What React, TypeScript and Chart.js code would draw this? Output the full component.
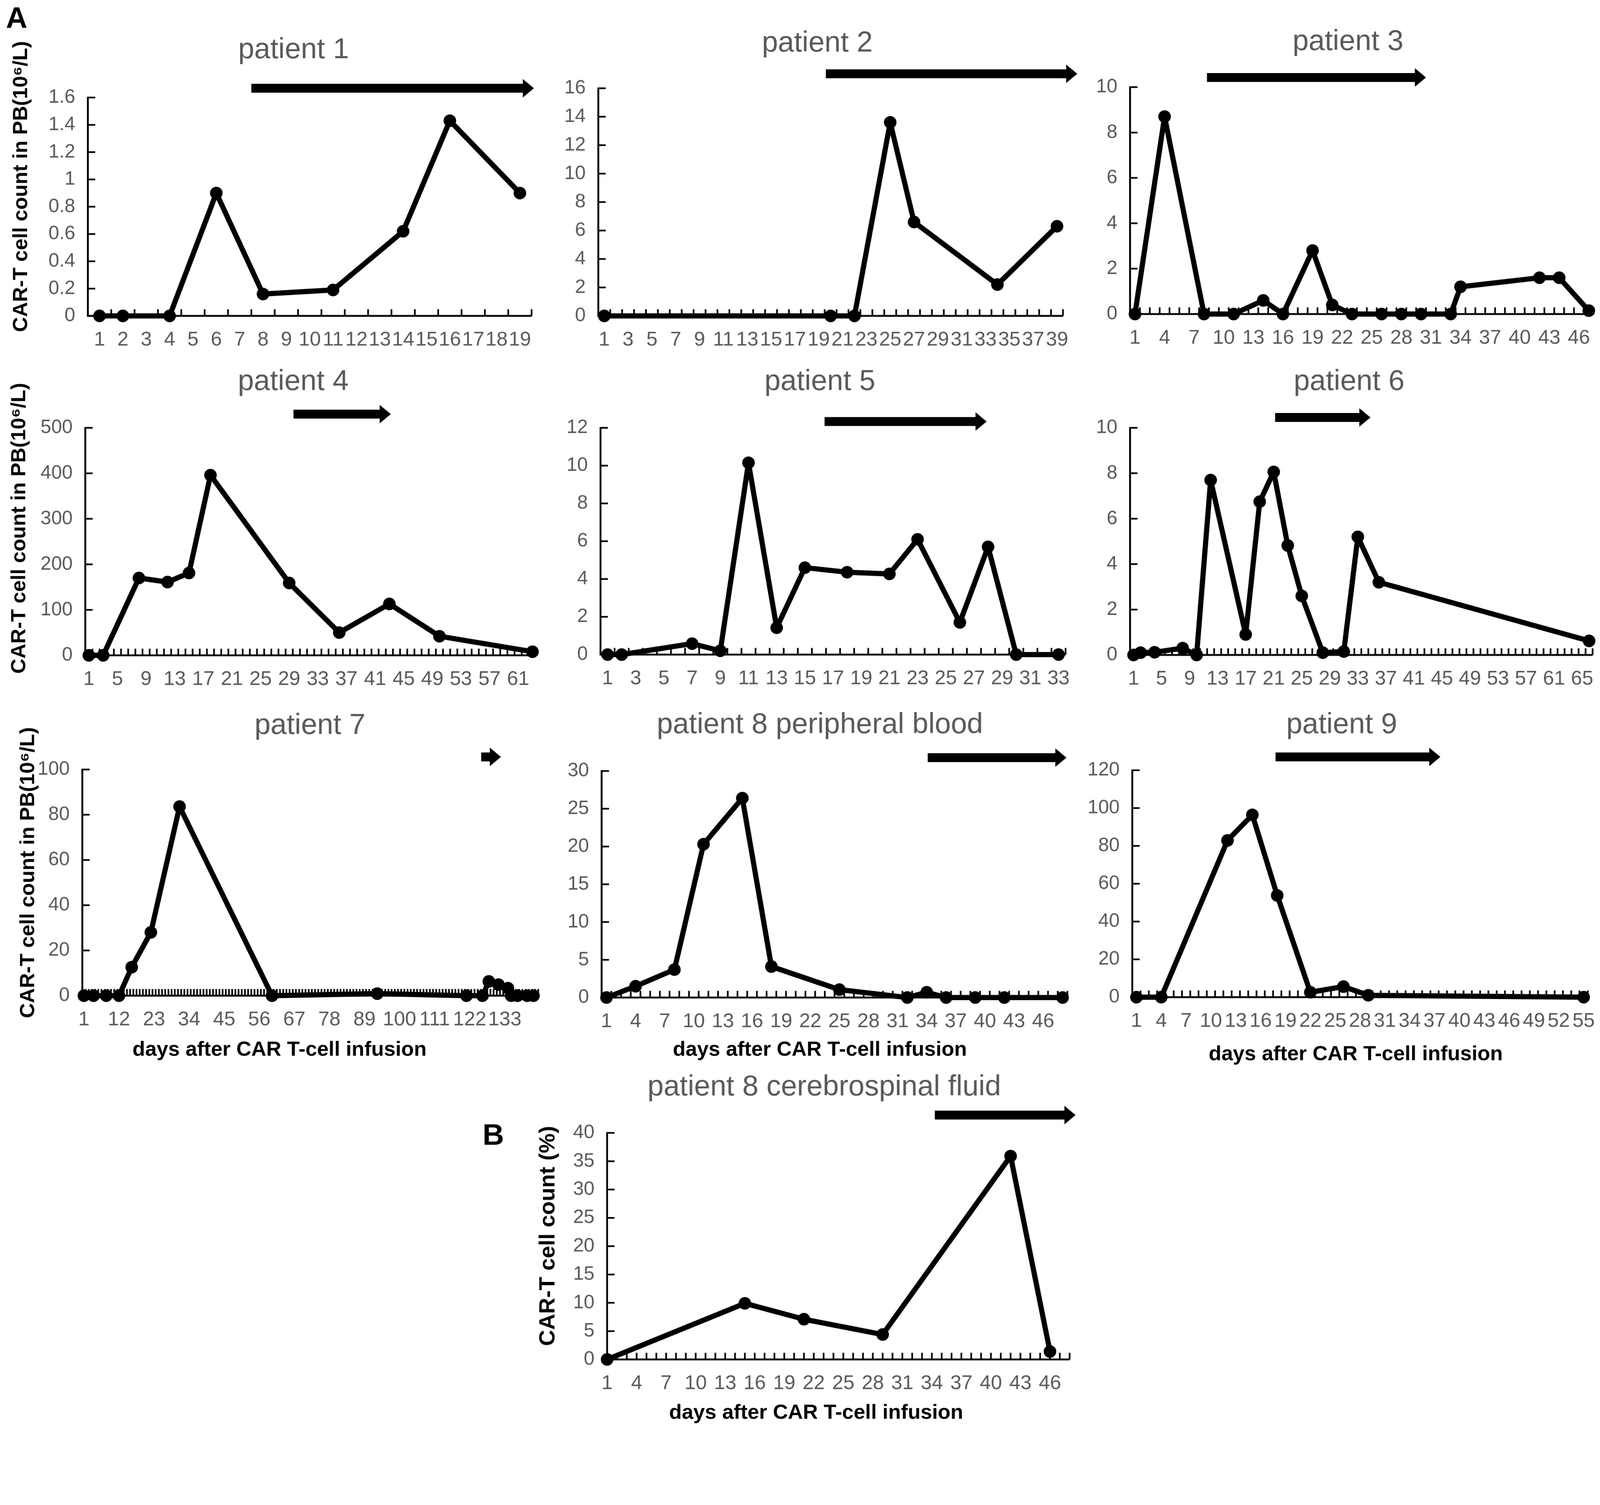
import { useEffect, useRef } from 'react';
import { Chart, registerables, type ChartConfiguration, type Plugin } from 'chart.js';

Chart.register(...registerables);

const FONT = '"Liberation Sans", Arial, Helvetica, sans-serif';
const GREY = '#595959';
const PAGE_W = 4317;
const PAGE_H = 3852;

// days after infusion and CAR-T counts
const p1Days = [1, 2, 4, 6, 8, 11, 14, 16, 19];
const p1Counts = [0, 0, 0, 0.9, 0.16, 0.19, 0.62, 1.43, 0.9];

const p2Days = [1, 20, 22, 25, 27, 34, 39];
const p2Counts = [0, 0, 0, 13.6, 6.6, 2.2, 6.3];

const p3Days = [1, 4, 8, 11, 14, 16, 19, 21, 23, 26, 28, 30, 33, 34, 42, 44, 47];
const p3Counts = [0, 8.7, 0, 0, 0.6, 0, 2.8, 0.4, 0, 0, 0, 0, 0, 1.2, 1.6, 1.6, 0.15];

const p4Days = [1, 3, 8, 12, 15, 18, 29, 36, 43, 50, 63];
const p4Counts = [0, 0, 170, 161, 181, 396, 159, 50, 113, 42, 8];

const p5Days = [1, 2, 7, 9, 11, 13, 15, 18, 21, 23, 26, 28, 30, 33];
const p5Counts = [0, 0, 0.58, 0.2, 10.15, 1.42, 4.6, 4.36, 4.27, 6.1, 1.7, 5.7, 0, 0];

const p6Days = [1, 2, 4, 8, 10, 12, 17, 19, 21, 23, 25, 28, 31, 33, 36, 66];
const p6Counts = [0, 0.1, 0.12, 0.3, 0, 7.7, 0.9, 6.75, 8.06, 4.82, 2.6, 0.1, 0.15, 5.2, 3.2, 0.62];

const p7Days = [1, 4, 8, 12, 16, 22, 31, 60, 93, 121, 126, 128, 131, 134, 135, 137, 140, 142];
const p7Counts = [0, 0, 0, 0, 12.6, 28, 83.6, 0, 0.9, 0, 0, 6.3, 4.9, 3.3, 0, 0, 0, 0];

const p8Days = [1, 4, 8, 11, 15, 18, 25, 32, 34, 36, 39, 42, 48];
const p8Counts = [0, 1.5, 3.7, 20.3, 26.4, 4.1, 1.05, 0, 0.7, 0, 0, 0, 0];

const p9Days = [1, 4, 12, 15, 18, 22, 26, 29, 55];
const p9Counts = [0, 0, 82.9, 96.4, 53.8, 2.6, 5.6, 1, 0];

const csfDays = [1, 15, 21, 29, 42, 46];
const csfPercent = [0, 9.9, 7.1, 4.4, 35.9, 1.4];

// treatment arrows, in days [start, tip]
const p1Arrow = [7.5, 19.6];
const p2Arrow = [19.6, 40.7];
const p3Arrow = [8.3, 30.5];
const p4Arrow = [29.6, 43.2];
const p5Arrow = [16.4, 27.9];
const p6Arrow = [21.2, 34.8];
const p7Arrow = [125.6, 131.8];
const p8Arrow = [34.1, 48.4];
const p9Arrow = [17.8, 37.7];
const csfArrow = [34.3, 48.6];

const yTitlePB = 'CAR-T cell count in PB(10⁶/L)';
const yTitleCSF = 'CAR-T cell count (%)';
const xTitle = 'days after CAR T-cell infusion';

interface Panel {
    title: string;
    days: number[];
    counts: number[];
    nDays: number;
    labelStep: number;
    onTicks?: boolean;
    yMax: number;
    yStep: number;
    arrow: number[];
    box: [number, number, number, number];
    area: [number, number, number, number];
    titleAt: [number, number];
    arrowY: number;
    yTitle?: { text: string; x: number; y: number; size: number };
    xTitleAt?: [number, number];
    letter?: { text: string; x: number; y: number; size: number };
}

const panels: Panel[] = [
    {
        title: 'patient 1', days: p1Days, counts: p1Counts, nDays: 19, labelStep: 1,
        yMax: 1.6, yStep: 0.2, arrow: p1Arrow,
        box: [0, 0, 1470, 960], area: [237, 263, 1434, 852],
        titleAt: [792, 157], arrowY: 238,
        yTitle: { text: yTitlePB, x: 58, y: 503, size: 56 },
        letter: { text: 'A', x: 16, y: 75, size: 80 },
    },
    {
        title: 'patient 2', days: p2Days, counts: p2Counts, nDays: 39, labelStep: 2,
        yMax: 16, yStep: 2, arrow: p2Arrow,
        box: [1470, 0, 1460, 960], area: [1614, 238, 2868, 852],
        titleAt: [2205, 139], arrowY: 199,
    },
    {
        title: 'patient 3', days: p3Days, counts: p3Counts, nDays: 47, labelStep: 3,
        yMax: 10, yStep: 2, arrow: p3Arrow,
        box: [2930, 0, 1387, 960], area: [3049, 235, 4300, 847],
        titleAt: [3637, 135], arrowY: 209,
    },
    {
        title: 'patient 4', days: p4Days, counts: p4Counts, nDays: 63, labelStep: 4,
        yMax: 500, yStep: 100, arrow: p4Arrow,
        box: [0, 960, 1470, 930], area: [230, 1154, 1446, 1768],
        titleAt: [791, 1052], arrowY: 1117,
        yTitle: { text: yTitlePB, x: 53, y: 1425, size: 56 },
    },
    {
        title: 'patient 5', days: p5Days, counts: p5Counts, nDays: 33, labelStep: 2,
        yMax: 12, yStep: 2, arrow: p5Arrow,
        box: [1470, 960, 1460, 930], area: [1620, 1154, 2875, 1766],
        titleAt: [2212, 1052], arrowY: 1137,
    },
    {
        title: 'patient 6', days: p6Days, counts: p6Counts, nDays: 66, labelStep: 4,
        yMax: 10, yStep: 2, arrow: p6Arrow,
        box: [2930, 960, 1387, 930], area: [3049, 1154, 4297, 1767],
        titleAt: [3640, 1052], arrowY: 1126,
    },
    {
        title: 'patient 7', days: p7Days, counts: p7Counts, nDays: 143, labelStep: 11,
        yMax: 100, yStep: 20, arrow: p7Arrow,
        box: [0, 1890, 1470, 1000], area: [222, 2076, 1452, 2686],
        titleAt: [836, 1980], arrowY: 2042,
        yTitle: { text: yTitlePB, x: 77, y: 2354, size: 56 },
        xTitleAt: [754, 2833],
    },
    {
        title: 'patient 8 peripheral blood', days: p8Days, counts: p8Counts, nDays: 48, labelStep: 3,
        yMax: 30, yStep: 5, arrow: p8Arrow,
        box: [1470, 1890, 1460, 1000], area: [1623, 2080, 2880, 2691],
        titleAt: [2212, 1978], arrowY: 2044,
        xTitleAt: [2212, 2833],
    },
    {
        title: 'patient 9', days: p9Days, counts: p9Counts, nDays: 55, labelStep: 3,
        yMax: 120, yStep: 20, arrow: p9Arrow,
        box: [2930, 1890, 1387, 1000], area: [3055, 2078, 4284, 2690],
        titleAt: [3620, 1978], arrowY: 2042,
        xTitleAt: [3658, 2845],
    },
    {
        title: 'patient 8 cerebrospinal fluid', days: csfDays, counts: csfPercent, nDays: 48, labelStep: 3,
        onTicks: true, yMax: 40, yStep: 5, arrow: csfArrow,
        box: [1290, 2890, 1640, 962], area: [1638, 3056, 2886, 3667],
        titleAt: [2224, 2955], arrowY: 3008,
        yTitle: { text: yTitleCSF, x: 1479, y: 3334, size: 60 },
        xTitleAt: [2202, 3812],
        letter: { text: 'B', x: 1302, y: 3088, size: 80 },
    },
];

function range(from: number, to: number, step: number) {
    const out: number[] = [];
    for (let v = from; v <= to + 1e-9; v += step) out.push(Math.round(v * 100) / 100);
    return out;
}

// axes with inward ticks, arrows and all the figure text
function decorPlugin(p: Panel): Plugin<'line'> {
    const [bx, by] = p.box;
    return {
        id: 'decor',
        beforeDatasetsDraw(chart) {
            const { ctx, chartArea } = chart;
            const { left, right, top, bottom } = chartArea;
            const xs = chart.scales.x;
            const ys = chart.scales.y;
            ctx.save();
            ctx.strokeStyle = '#000';
            ctx.lineWidth = 5;
            ctx.beginPath();
            ctx.moveTo(left, bottom + 2.5);
            ctx.lineTo(left, top - 2);
            ctx.moveTo(left, bottom);
            ctx.lineTo(right, bottom);
            ctx.stroke();

            ctx.lineWidth = 4.5;
            ctx.beginPath();
            for (const t of ys.ticks) {
                const py = ys.getPixelForValue(t.value);
                ctx.moveTo(left, py);
                ctx.lineTo(left + 20, py);
            }
            const first = p.onTicks ? 2 : 1.5;
            const last = p.onTicks ? p.nDays : p.nDays + 0.5;
            for (let d = first; d <= last + 1e-6; d++) {
                const px = xs.getPixelForValue(d);
                ctx.moveTo(px, bottom);
                ctx.lineTo(px, bottom - 18);
            }
            ctx.stroke();
            ctx.restore();
        },
        afterDraw(chart) {
            const { ctx } = chart;
            const xs = chart.scales.x;
            ctx.save();

            // arrow
            const x0 = xs.getPixelForValue(p.arrow[0]);
            const x1 = xs.getPixelForValue(p.arrow[1]);
            const ay = p.arrowY - by;
            const shaft = 12;
            const head = 25;
            const headLen = 30;
            ctx.fillStyle = '#000';
            ctx.beginPath();
            ctx.moveTo(x0, ay - shaft);
            ctx.lineTo(x1 - headLen, ay - shaft);
            ctx.lineTo(x1 - headLen, ay - head);
            ctx.lineTo(x1, ay);
            ctx.lineTo(x1 - headLen, ay + head);
            ctx.lineTo(x1 - headLen, ay + shaft);
            ctx.lineTo(x0, ay + shaft);
            ctx.closePath();
            ctx.fill();

            // panel title
            ctx.fillStyle = GREY;
            ctx.font = `78px ${FONT}`;
            ctx.textAlign = 'center';
            ctx.textBaseline = 'alphabetic';
            ctx.fillText(p.title, p.titleAt[0] - bx, p.titleAt[1] - by);

            ctx.fillStyle = '#000';
            if (p.xTitleAt) {
                ctx.font = `bold 56px ${FONT}`;
                ctx.textBaseline = 'middle';
                ctx.fillText(xTitle, p.xTitleAt[0] - bx, p.xTitleAt[1] - by);
            }
            if (p.yTitle) {
                ctx.save();
                ctx.translate(p.yTitle.x - bx, p.yTitle.y - by);
                ctx.rotate(-Math.PI / 2);
                ctx.font = `bold ${p.yTitle.size}px ${FONT}`;
                ctx.textAlign = 'center';
                ctx.textBaseline = 'middle';
                ctx.fillText(p.yTitle.text, 0, 0);
                ctx.restore();
            }
            if (p.letter) {
                ctx.font = `bold ${p.letter.size}px ${FONT}`;
                ctx.textAlign = 'left';
                ctx.textBaseline = 'alphabetic';
                ctx.fillText(p.letter.text, p.letter.x - bx, p.letter.y - by);
            }
            ctx.restore();
        },
    };
}

function buildConfig(p: Panel): ChartConfiguration<'line'> {
    const [bx, by, bw, bh] = p.box;
    const [al, at, ar, ab] = p.area;
    return {
        type: 'line',
        data: {
            datasets: [
                {
                    data: p.days.map((d, i) => ({ x: d, y: p.counts[i] })),
                    borderColor: '#000',
                    borderWidth: 14,
                    borderJoinStyle: 'round',
                    borderCapStyle: 'round',
                    pointRadius: 17,
                    pointHoverRadius: 17,
                    pointBackgroundColor: '#000',
                    pointBorderColor: '#000',
                    pointBorderWidth: 0,
                    tension: 0,
                    fill: false,
                    clip: false,
                },
            ],
        },
        options: {
            responsive: false,
            animation: false,
            devicePixelRatio: 1,
            events: [],
            layout: {
                padding: { left: 0, top: at - by, right: bx + bw - ar, bottom: 0 },
            },
            plugins: {
                legend: { display: false },
                tooltip: { enabled: false },
            },
            scales: {
                x: {
                    type: 'linear',
                    min: p.onTicks ? 1 : 0.5,
                    max: p.onTicks ? p.nDays : p.nDays + 0.5,
                    grid: { display: false, drawTicks: false },
                    border: { display: false },
                    afterBuildTicks: (axis) => {
                        axis.ticks = range(1, p.nDays, p.labelStep).map((value) => ({ value }));
                    },
                    afterFit: (axis) => {
                        axis.height = by + bh - ab;
                        axis.paddingLeft = 0;
                        axis.paddingRight = 0;
                    },
                    ticks: {
                        autoSkip: false,
                        maxRotation: 0,
                        minRotation: 0,
                        padding: 33,
                        color: GREY,
                        font: { family: FONT, size: 54 },
                        callback: (v) => String(v),
                    },
                },
                y: {
                    type: 'linear',
                    min: 0,
                    max: p.yMax,
                    grid: { display: false, drawTicks: false },
                    border: { display: false },
                    afterBuildTicks: (axis) => {
                        axis.ticks = range(0, p.yMax, p.yStep).map((value) => ({ value }));
                    },
                    afterFit: (axis) => {
                        axis.width = al - bx;
                        axis.paddingTop = 0;
                        axis.paddingBottom = 0;
                    },
                    ticks: {
                        padding: 34,
                        color: GREY,
                        font: { family: FONT, size: 52 },
                        callback: (v) => String(Math.round(Number(v) * 10) / 10),
                    },
                },
            },
        },
        plugins: [decorPlugin(p)],
    };
}

function PanelChart({ panel, scale }: { panel: Panel; scale: number }) {
    const canvasRef = useRef<HTMLCanvasElement>(null);

    useEffect(() => {
        if (!canvasRef.current) return;
        const chart = new Chart(canvasRef.current, buildConfig(panel));
        return () => {
            chart.destroy();
        };
    }, [panel]);

    const [x, y, w, h] = panel.box;
    // the bitmap is drawn in figure pixels; css size maps it onto the viewport
    return (
        <canvas
            ref={canvasRef}
            width={w}
            height={h}
            style={{
                position: 'absolute',
                left: x * scale,
                top: y * scale,
                width: w * scale,
                height: h * scale,
            }}
        />
    );
}

export default function App() {
    const scale =
        typeof window === 'undefined'
            ? 1
            : Math.min(window.innerWidth / PAGE_W, window.innerHeight / PAGE_H);

    return (
        <div
            style={{
                position: 'absolute',
                left: 0,
                top: 0,
                width: PAGE_W * scale,
                height: PAGE_H * scale,
                overflow: 'hidden',
                background: '#fff',
            }}
        >
            {panels.map((p) => (
                <PanelChart key={p.title} panel={p} scale={scale} />
            ))}
        </div>
    );
}
